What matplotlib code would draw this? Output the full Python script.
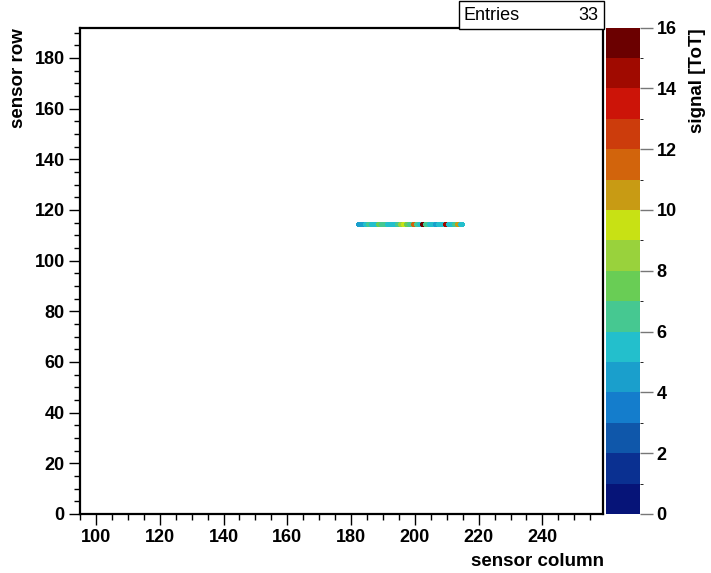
import numpy as np
import matplotlib
matplotlib.use("Agg")
import matplotlib.pyplot as plt
from matplotlib.colors import ListedColormap, BoundaryNorm
from matplotlib.ticker import MultipleLocator

# Hit pixels of the cluster (column, row) and their ToT signal
columns = [182, 183, 184, 185, 186, 187, 188, 189, 190, 191, 192,
           193, 194, 195, 196, 197, 198, 199, 200, 201, 202, 203,
           204, 205, 206, 207, 208, 209, 210, 211, 212, 213, 214]
row_hit = 114
tot = [4, 4, 5, 6, 5, 5, 7, 6, 6, 5, 5,
       5, 6, 8, 9, 7, 6, 11, 6, 5, 16, 6,
       5, 5, 4, 5, 5, 14, 5, 5, 6, 10, 5]

x_range = (95, 259)
y_range = (0, 192)
z_levels = list(range(0, 17))
z_ticks = [0, 2, 4, 6, 8, 10, 12, 14, 16]

palette = ["#061478", "#0a3091", "#0f57aa", "#147dcc", "#1a9fcc", "#23bfcc",
           "#46c891", "#69cd55", "#99d23c", "#c8e114", "#c89b14", "#d2640c",
           "#cc3c0c", "#cc1408", "#a00a00", "#6b0000"]

plt.rcParams["font.family"] = ["Liberation Sans", "DejaVu Sans"]
TICK_FS = 13
TITLE_FS = 13.5

fig = plt.figure(figsize=(7.11, 5.73), dpi=100)
W, H = 711, 573
ax = fig.add_axes([80 / W, (H - 514) / H, (603 - 80) / W, (514 - 27.5) / H])

xe = np.arange(x_range[0], x_range[1] + 1)
ye = np.arange(y_range[0], y_range[1] + 1)
grid = np.full((len(ye) - 1, len(xe) - 1), np.nan)
for c, v in zip(columns, tot):
    grid[row_hit - y_range[0], c - x_range[0]] = v
grid = np.ma.masked_invalid(grid)

cmap = ListedColormap(palette)
norm = BoundaryNorm(z_levels, cmap.N, clip=True)
mesh = ax.pcolormesh(xe, ye, grid, cmap=cmap, norm=norm,
                     edgecolors="face", linewidth=0.9)
mesh.set_joinstyle("miter")
mesh.set_capstyle("projecting")

ax.set_xlim(*x_range)
ax.set_ylim(*y_range)
ax.xaxis.set_major_locator(MultipleLocator(20))
ax.xaxis.set_minor_locator(MultipleLocator(5))
ax.yaxis.set_major_locator(MultipleLocator(20))
ax.yaxis.set_minor_locator(MultipleLocator(5))
ax.tick_params(which="major", direction="out", length=8, width=1,
               labelsize=TICK_FS, pad=3)
ax.tick_params(which="minor", direction="out", length=4, width=1)
for lab in ax.get_xticklabels() + ax.get_yticklabels():
    lab.set_fontweight("bold")
for s in ax.spines.values():
    s.set_linewidth(1.6)

fig.text(604 / W, 1 - 561 / H, "sensor column", ha="right", va="center",
         fontsize=TITLE_FS, fontweight="bold")
fig.text(19 / W, 1 - 28 / H, "sensor row", ha="center", va="top",
         rotation=90, fontsize=TITLE_FS, fontweight="bold")

# colour scale
cax = fig.add_axes([606 / W, (H - 514) / H, (640 - 606) / W, (514 - 27.5) / H])
cb = fig.colorbar(mesh, cax=cax, ticks=z_ticks, boundaries=z_levels)
cb.outline.set_visible(False)
cax.tick_params(direction="out", length=9, width=1, color="#777777",
                labelsize=TICK_FS, pad=3)
for lab in cax.get_yticklabels():
    lab.set_fontweight("bold")
fig.text(697 / W, 1 - 28 / H, "signal [ToT]", ha="center", va="top",
         rotation=90, fontsize=TITLE_FS, fontweight="bold")

# statistics box
n_entries = len(tot)
bx0, bx1, by0, by1 = 459 / W, 604 / W, 1 - 29 / H, 1 - 1 / H
fig.patches.append(plt.Rectangle((bx0, by0), bx1 - bx0, by1 - by0,
                                 transform=fig.transFigure, facecolor="white",
                                 edgecolor="black", linewidth=1, zorder=5))
fig.text(464 / W, 1 - 15 / H, "Entries", ha="left", va="center",
         fontsize=TICK_FS, zorder=6)
fig.text(598 / W, 1 - 15 / H, f"{n_entries}", ha="right", va="center",
         fontsize=TICK_FS, zorder=6)

fig.savefig("out.png", dpi=100)
